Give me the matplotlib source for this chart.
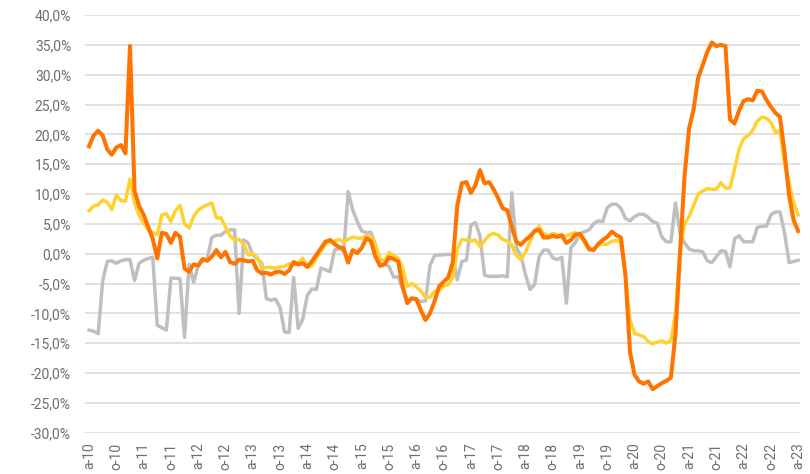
import numpy as np
import matplotlib
matplotlib.use('Agg')
import matplotlib.pyplot as plt
from matplotlib.ticker import FuncFormatter

#
# data (monthly, a-10 .. a-23), values in %
#
tick_labels = ['a-10', 'o-10', 'a-11', 'o-11', 'a-12', 'o-12', 'a-13', 'o-13', 'a-14',
               'o-14', 'a-15', 'o-15', 'a-16', 'o-16', 'a-17', 'o-17', 'a-18', 'o-18',
               'a-19', 'o-19', 'a-20', 'o-20', 'a-21', 'o-21', 'a-22', 'o-22', 'a-23']

orange = [18.0, 19.8, 20.6, 19.8, 17.5, 16.6, 17.8, 18.2, 16.8, 34.8,
          10.5, 8.0, 6.5, 4.5, 2.5, -0.8, 3.5, 3.3, 1.8, 3.5,
          2.8, -2.5, -3.0, -1.8, -2.0, -0.9, -1.2, -0.5, 0.6, -0.6,
          0.3, -1.4, -1.7, -1.0, -1.1, -1.3, -1.2, -2.8, -3.3, -3.2,
          -3.5, -3.1, -3.0, -3.4, -2.8, -1.4, -1.8, -1.6, -2.2, -1.3,
          -0.2, 0.9, 2.0, 2.3, 1.6, 1.1, 0.9, -1.5, 0.6, 0.1,
          1.0, 2.6, 2.1, -0.5, -2.0, -1.8, -0.6, -0.9, -1.3, -5.5,
          -8.3, -7.5, -7.6, -9.5, -11.1, -10.0, -8.0, -5.5, -4.7, -4.0,
          -1.5, 8.0, 11.8, 12.0, 10.2, 11.5, 14.0, 11.8, 12.0, 10.8,
          9.3, 7.6, 7.3, 4.5, 2.0, 1.5, 2.3, 2.9, 3.8, 4.0,
          2.7, 2.7, 3.0, 2.8, 3.1, 1.8, 2.3, 3.2, 3.3, 2.2,
          0.8, 0.6, 1.6, 2.3, 2.8, 3.7, 3.1, 2.7, -3.5, -16.5,
          -20.3, -21.4, -21.8, -21.4, -22.7, -22.2, -21.7, -21.3, -20.8, -13.5,
          0.0, 13.0, 21.0, 24.2, 29.5, 31.6, 33.8, 35.4, 34.8, 35.0,
          34.8, 22.5, 21.8, 24.0, 25.6, 25.9, 25.7, 27.3, 27.2, 25.8,
          24.6, 23.6, 22.9, 17.0, 9.8, 5.6, 3.8]

yellow = [7.2, 8.0, 8.2, 9.0, 8.6, 7.4, 9.8, 8.9, 8.8, 12.5,
          8.5, 6.4, 5.1, 4.0, 3.5, 3.2, 6.5, 6.7, 5.4, 7.2,
          8.1, 5.0, 4.3, 6.2, 7.3, 7.8, 8.2, 8.5, 6.0, 6.0,
          4.5, 3.0, 2.3, 2.4, 1.6, -0.2, 0.0, -0.6, -2.4, -2.3,
          -2.3, -2.4, -2.2, -2.1, -1.7, -1.8, -1.5, -0.8, -2.3, -2.0,
          -0.7, 0.4, 1.6, 2.0, 2.1, 2.4, 2.0, 2.4, 2.8, 2.6,
          2.6, 3.0, 2.9, 1.5, -0.8, -1.3, 0.2, -0.3, -0.8, -2.4,
          -5.5, -5.0, -5.5, -6.3, -7.3, -7.3, -6.3, -6.2, -5.4, -5.2,
          -4.0, 0.8, 2.4, 2.3, 2.1, 2.3, 1.2, 2.2, 3.1, 3.4,
          3.1, 2.4, 2.1, 1.5, -0.3, -1.0, 0.3, 2.0, 3.8, 4.6,
          3.4, 3.0, 3.4, 3.2, 2.9, 3.0, 3.3, 3.5, 3.0, 1.8,
          0.6, 0.8, 1.5, 1.6, 1.6, 2.1, 2.2, 2.0, -4.0, -11.0,
          -13.4, -13.6, -13.9, -14.7, -15.1, -14.8, -14.6, -15.0, -14.5, -10.0,
          0.5, 5.1, 6.2, 8.1, 10.0, 10.5, 10.9, 10.8, 10.8, 11.9,
          11.0, 11.0, 14.2, 17.5, 19.3, 19.8, 20.7, 22.2, 22.9, 22.7,
          22.0, 20.3, 20.6, 15.0, 11.9, 8.5, 6.5]

gray = [-12.8, -13.0, -13.4, -4.5, -1.3, -1.2, -1.6, -1.2, -1.0, -1.0,
        -4.5, -1.6, -1.1, -0.8, -0.6, -12.0, -12.4, -12.8, -4.1, -4.1,
        -4.2, -14.0, -1.8, -4.8, -2.0, -1.2, -0.8, 2.7, 3.1, 3.1,
        3.7, 4.0, 4.0, -10.0, 2.3, 1.8, -0.2, -0.8, -1.6, -7.5,
        -7.8, -7.6, -9.0, -13.1, -13.2, -4.0, -12.5, -11.0, -7.0, -5.9,
        -6.0, -2.4, -2.7, -3.0, 0.6, 0.9, 0.4, 10.4, 7.3, 5.4,
        3.8, 3.5, 3.6, 1.5, -2.1, -1.6, -2.2, -3.9, -3.9, -6.0,
        -8.0, -7.4, -7.8, -8.0, -7.9, -2.0, -0.3, -0.2, -0.2, -0.1,
        -0.2, -4.4, -1.3, -1.1, 4.8, 5.2, 3.0, -3.6, -3.8, -3.8,
        -3.8, -3.7, -3.9, 10.2, 1.0, -0.3, -3.5, -6.0, -5.2, -0.5,
        0.6, 0.6, -0.7, -1.0, -0.6, -8.3, 1.0, 1.9, 3.4, 3.7,
        4.0, 5.0, 5.5, 5.4, 7.7, 8.3, 8.3, 7.6, 5.9, 5.5,
        6.2, 6.6, 6.6, 6.1, 5.4, 5.1, 2.8, 2.0, 2.0, 8.5,
        3.5, 1.8, 0.8, 0.5, 0.5, 0.3, -1.2, -1.5, -0.5, 0.5,
        0.4, -2.2, 2.5, 3.0, 2.0, 2.0, 2.0, 4.4, 4.6, 4.6,
        6.5, 7.0, 7.0, 3.5, -1.5, -1.3, -1.1]

x = np.arange(len(orange))

#
# plot
#
plt.rcParams['font.family'] = ['Roboto', 'DejaVu Sans']
fig = plt.figure(figsize=(8.1, 4.74), dpi=100)
ax = fig.add_axes([85 / 810, 1 - 432.7 / 474, 715 / 810, 417.7 / 474])

ax.plot(x, gray, color='#BFBFBF', lw=2.5, solid_joinstyle='round', zorder=3)
ax.plot(x, yellow, color='#FFD232', lw=2.5, solid_joinstyle='round', zorder=4)
ax.plot(x, orange, color='#FF7300', lw=2.9, solid_joinstyle='round', zorder=5)

ax.set_ylim(-30, 40)
ax.set_yticks(np.arange(-30, 41, 5))
ax.yaxis.set_major_formatter(FuncFormatter(lambda v, p: '{:.1f}%'.format(v).replace('.', ',')))
ax.set_xlim(-0.9, 156.4)
ax.set_xticks(np.arange(0, len(x), 6))
ax.set_xticklabels(tick_labels, rotation=90)

ax.grid(axis='y', color='#D9D9D9', lw=1.1, zorder=0)
ax.set_axisbelow(True)
for s in ax.spines.values():
    s.set_visible(False)
ax.tick_params(axis='both', length=0, colors='#6E6E6E', labelsize=10)
ax.tick_params(axis='y', pad=10)
ax.tick_params(axis='x', pad=7)

plt.savefig('out.png', dpi=100)
